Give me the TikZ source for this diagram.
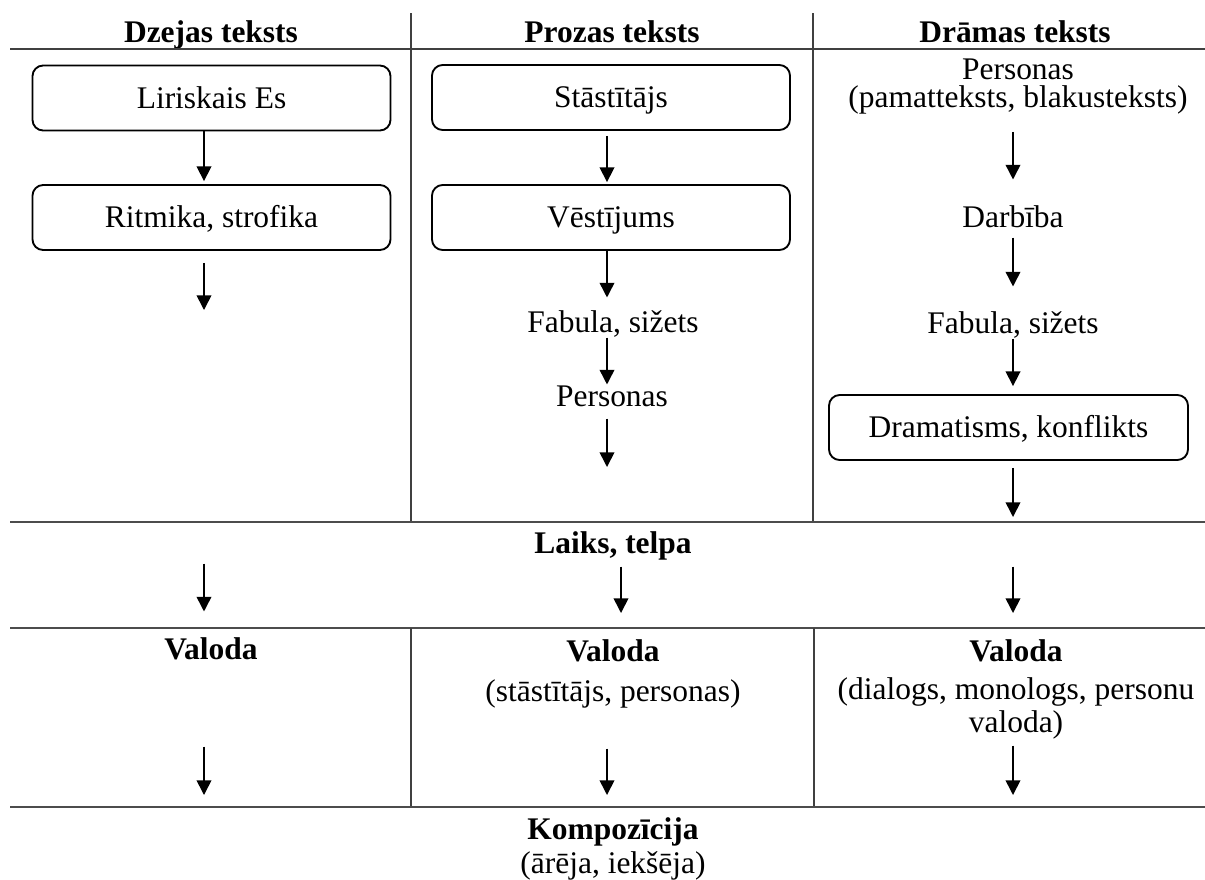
\documentclass[tikz,border=0pt]{standalone}
\usepackage{fontspec}
\setmainfont{Liberation Serif}
\usetikzlibrary{arrows.meta}
\begin{document}
\begin{tikzpicture}[x=0.75pt,y=-0.75pt,
  every node/.style={font=\fontsize{23.6}{28}\selectfont},
  box/.style={draw, line width=1.4pt, rounded corners=8pt, minimum width=268.5pt,
    minimum height=48.75pt, inner sep=0pt, text height=15.4pt, text depth=0pt},
  txt/.style={inner sep=0pt, text height=15.4pt, text depth=0pt},
  txtm/.style={inner sep=0pt, align=center},
  head/.style={txt, font=\fontsize{23.6}{28}\selectfont\bfseries},
  arr/.style={-{Triangle[length=11pt,width=11pt]}, line width=1.2pt},
  gridline/.style={line width=0.9pt, black!75},
  rowrule/.style={line width=1.8pt, black!70},
]
\useasboundingbox (0,0) rectangle (1205,879);

% column headers
\node[head] (h1) at (211,32) {Dzejas teksts};
\node[head] (h2) at (612,32) {Prozas teksts};
\node[head] (h3) at (1015,32) {Drāmas teksts};

% table rules
\draw[gridline] (10,49) -- (1205,49);
\draw[gridline] (411,13) -- (411,522);
\draw[gridline] (813,13) -- (813,522);
\draw[rowrule] (10,522) -- (1205,522);
\draw[rowrule] (10,628) -- (1205,628);
\draw[gridline] (411,628) -- (411,807);
\draw[gridline] (814,628) -- (814,807);
\draw[rowrule] (10,807) -- (1205,807);

% arrow columns
\coordinate (e1) at (204,310);
\coordinate (e2) at (607,467);
\coordinate (e3) at (1013,517);
\coordinate (m2) at (621,566);

% poetry
\node[box] (b1) at (211.5,98) {Liriskais Es};
\node[box] (b2) at (211.5,217.5) {Ritmika, strofika};

% prose
\node[box] (p1) at (611,97.5) {Stāstītājs};
\node[box] (p2) at (611,217.5) {Vēstījums};
\node[txt] (pf) at (613,322) {Fabula, sižets};
\node[txt] (pp) at (612,396) {Personas};

% drama
\node[txtm, anchor=north, font=\fontsize{23.6}{21}\selectfont] (dp) at (1018,59)
  {Personas\\(pamatteksts, blakusteksts)};
\node[txt] (dd) at (1013,217) {Darbība};
\node[txt] (df) at (1013,323) {Fabula, sižets};
\node[box, minimum width=269.25pt] (d4) at (1008.5,427.5) {Dramatisms, konflikts};

% shared rows
\node[head] (lt) at (613,543) {Laiks, telpa};
\node[head] (v1) at (211,649) {Valoda};
\node[txtm, anchor=north, font=\fontsize{23.6}{30}\selectfont] (v2) at (613,639)
  {\textbf{Valoda}\\(stāstītājs, personas)};
\node[txtm, anchor=north, font=\fontsize{23.6}{24.75}\selectfont] (v3) at (1016,639)
  {\textbf{Valoda}\\[3.75pt](dialogs, monologs, personu\\valoda)};
\node[txtm, anchor=north, font=\fontsize{23.6}{25.5}\selectfont] (k) at (613,817)
  {\textbf{Kompozīcija}\\(ārēja, iekšēja)};

% poetry arrows
\draw[arr, shorten >=2.25pt] (b1.south -| e1) -- (b2.north -| e1);
\draw[arr, shorten <=9pt] (b2.south -| e1) -- (e1);

% prose arrows
\draw[arr, shorten <=3.75pt, shorten >=1.5pt] (p1.south -| e2) -- (p2.north -| e2);
\draw[arr, shorten >=10.5pt] (p2.south -| e2) -- (pf.north -| e2);
\draw[arr, shorten <=3.75pt, shorten >=0.75pt] (pf.south -| e2) -- (pp.north -| e2);
\draw[arr, shorten <=9pt] (pp.south -| e2) -- (e2);

% drama arrows
\draw[arr, shorten <=12.75pt, shorten >=20.25pt] (dp.south -| e3) -- (dd.north -| e3);
\draw[arr, shorten <=7.5pt, shorten >=19.5pt] (dd.south -| e3) -- (df.north -| e3);
\draw[arr, shorten <=3.75pt, shorten >=6pt] (df.south -| e3) -- (d4.north -| e3);
\draw[arr, shorten <=5.25pt] (d4.south -| e3) -- (e3);

% time and space to language
\draw[arr, shorten <=7.5pt, shorten >=20.25pt] (lt.south -| e1) -- (v1.north -| e1);
\draw[arr, shorten <=9.75pt, shorten >=19.5pt] (lt.south -| m2) -- (v2.north -| m2);
\draw[arr, shorten <=9.75pt, shorten >=19.5pt] (lt.south -| e3) -- (v3.north -| e3);

% language to composition
\draw[arr, shorten <=65.25pt, shorten >=16.5pt] (v1.south -| e1) -- (k.north -| e1);
\draw[arr, shorten <=30.4pt, shorten >=16.5pt] (v2.south -| e2) -- (k.north -| e2);
\draw[arr, shorten <=4.9pt, shorten >=16.5pt] (v3.south -| e3) -- (k.north -| e3);
\end{tikzpicture}
\end{document}
